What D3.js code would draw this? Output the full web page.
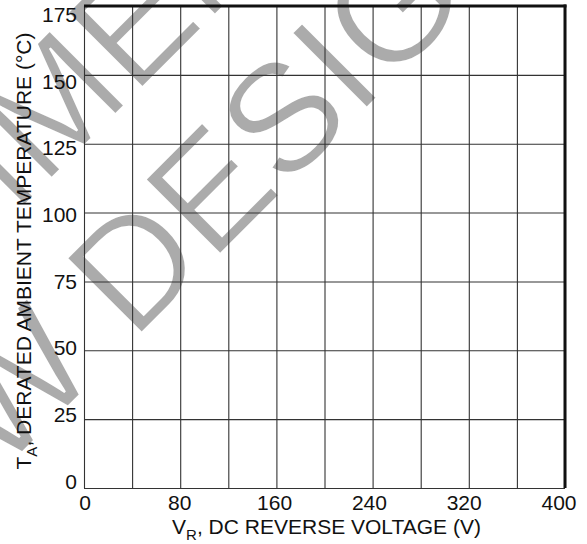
<!DOCTYPE html>
<html>
<head>
<meta charset="utf-8">
<script src="https://cdn.jsdelivr.net/npm/d3@7"></script>
<style>
  body { margin: 0; background: #fff; }
  text { font-family: "Liberation Sans", Arial, sans-serif; }
</style>
</head>
<body>
<div id="chart"></div>
<script>
// axis ranges and tick values
var xDomain = [0, 400];
var yDomain = [0, 175];
var xGridValues = [0, 40, 80, 120, 160, 200, 240, 280, 320, 360, 400];
var yGridValues = [0, 25, 50, 75, 100, 125, 150, 175];
var xTickLabels = [0, 80, 160, 240, 320, 400];
var yTickLabels = [0, 25, 50, 75, 100, 125, 150, 175];
var watermarkLines = ["NOT RECOMMENDED FOR", "NEW DESIGN"];

var margin = {top: 6, right: 22, bottom: 56, left: 84},
    width = 587 - margin.left - margin.right,
    height = 544 - margin.top - margin.bottom;

var svg = d3.select("#chart")
  .append("svg")
    .attr("width", 587)
    .attr("height", 544);

// watermark goes under the grid (white stroke thins the letters a bit)
var wm = svg.append("g")
  .attr("transform", "translate(77,153) rotate(-45)");
wm.selectAll("text")
  .data(watermarkLines)
  .enter()
  .append("text")
    .attr("x", 0)
    .attr("y", function(d, i) { return i * 173; })
    .attr("text-anchor", "middle")
    .style("font-size", "154px")
    .style("fill", "#ababab")
    .style("stroke", "#fff")
    .style("stroke-width", 2.2)
    .text(function(d) { return d; });

var g = svg.append("g")
  .attr("transform", "translate(" + margin.left + "," + margin.top + ")");

var x = d3.scaleLinear().domain(xDomain).range([0, width]);
var y = d3.scaleLinear().domain(yDomain).range([height, 0]);

// labels in the original sit slightly inside the grid ends
var xl = d3.scaleLinear().domain(xDomain).range([1, width - 6]);
var yl = d3.scaleLinear().domain(yDomain).range([height - 7, 8.5]);

// grid lines
g.append("g")
  .attr("transform", "translate(0," + height + ")")
  .call(d3.axisBottom(x).tickValues(xGridValues).tickSize(-height).tickFormat(""))
  .call(function(a) { a.select(".domain").remove(); })
  .selectAll("line")
    .attr("stroke", "#333")
    .attr("stroke-width", 1.1);

g.append("g")
  .call(d3.axisLeft(y).tickValues(yGridValues).tickSize(-width).tickFormat(""))
  .call(function(a) { a.select(".domain").remove(); })
  .selectAll("line")
    .attr("stroke", "#333")
    .attr("stroke-width", 1.1);

// heavy top and right border
g.append("line")
  .attr("x1", 0).attr("x2", width + 1.5)
  .attr("y1", y(175)).attr("y2", y(175))
  .attr("stroke", "#111").attr("stroke-width", 2.8);
g.append("line")
  .attr("x1", x(400)).attr("x2", x(400))
  .attr("y1", y(175) - 1.4).attr("y2", height)
  .attr("stroke", "#111").attr("stroke-width", 3);

// tick labels
g.selectAll("xlab")
  .data(xTickLabels)
  .enter()
  .append("text")
    .attr("x", function(d) { return xl(d); })
    .attr("y", height + 22)
    .attr("text-anchor", "middle")
    .style("font-size", "21px")
    .style("fill", "#111")
    .text(function(d) { return d; });

g.selectAll("ylab")
  .data(yTickLabels)
  .enter()
  .append("text")
    .attr("x", -7)
    .attr("y", function(d) { return yl(d); })
    .attr("dy", "0.36em")
    .attr("text-anchor", "end")
    .style("font-size", "21px")
    .style("fill", "#111")
    .text(function(d) { return d; });

// axis titles
var xt = g.append("text")
  .attr("x", width / 2 + 2)
  .attr("y", height + 46)
  .attr("text-anchor", "middle")
  .style("font-size", "21px")
  .style("fill", "#111");
xt.append("tspan").text("V");
xt.append("tspan").attr("dy", 6).style("font-size", "15px").text("R");
xt.append("tspan").attr("dy", -6).text(", DC REVERSE VOLTAGE (V)");

var yt = g.append("text")
  .attr("transform", "translate(-53," + (height / 2 + 4) + ") rotate(-90)")
  .attr("text-anchor", "middle")
  .style("font-size", "21px")
  .style("fill", "#111");
yt.append("tspan").text("T");
yt.append("tspan").attr("dy", 6).style("font-size", "15px").text("A");
yt.append("tspan").attr("dy", -6).text(", DERATED AMBIENT TEMPERATURE (°C)");
</script>
</body>
</html>
